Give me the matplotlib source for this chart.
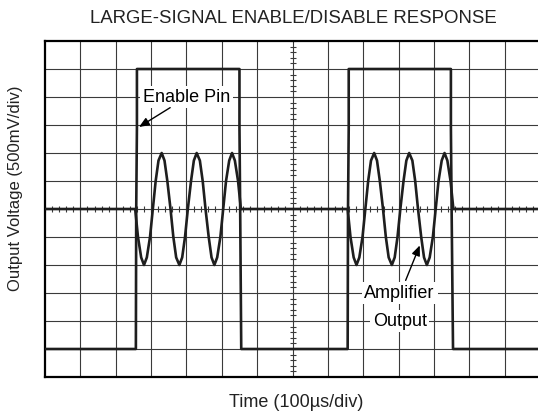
import numpy as np
import matplotlib
matplotlib.use("Agg")
import matplotlib.pyplot as plt

plt.rcParams['font.family'] = ['Liberation Sans', 'DejaVu Sans']

# scope screen, in divisions (time: 100us/div, voltage: 500mV/div)
enable_t = [0.0, 2.57, 2.58, 2.6, 2.6, 5.5, 5.5, 5.52, 5.55,
            8.56, 8.57, 8.59, 8.59, 11.48, 11.48, 11.5, 11.54, 14.0]
enable_v = [-5, -5, 0, 2.9, 5, 5, 2.9, 0, -5,
            -5, 0, 2.9, 5, 5, 2.9, 0, -5, -5]

burst1_t = [0.0,
            2.55, 2.63, 2.72, 2.80, 2.88, 2.97, 3.05, 3.13, 3.21, 3.30, 3.38, 3.46,
            3.55, 3.63, 3.71, 3.80, 3.88, 3.96, 4.04, 4.13, 4.21, 4.29, 4.38, 4.46,
            4.54, 4.63, 4.71, 4.79, 4.87, 4.96, 5.04, 5.12, 5.21, 5.29, 5.37, 5.46,
            5.54]
burst1_v = [0,
            0, -1, -1.73, -2, -1.73, -1, 0, 1, 1.73, 2, 1.73, 1,
            0, -1, -1.73, -2, -1.73, -1, 0, 1, 1.73, 2, 1.73, 1,
            0, -1, -1.73, -2, -1.73, -1, 0, 1, 1.73, 2, 1.73, 1,
            0]
burst2_t = [5.54,
            8.56, 8.64, 8.73, 8.81, 8.89, 8.98, 9.06, 9.14, 9.22, 9.31, 9.39, 9.47,
            9.56, 9.64, 9.72, 9.81, 9.89, 9.97, 10.05, 10.14, 10.22, 10.30, 10.39, 10.47,
            10.55, 10.64, 10.72, 10.80, 10.88, 10.97, 11.05, 11.13, 11.22, 11.30, 11.38, 11.47,
            11.55, 14.0]
burst2_v = [0,
            0, -1, -1.73, -2, -1.73, -1, 0, 1, 1.73, 2, 1.73, 1,
            0, -1, -1.73, -2, -1.73, -1, 0, 1, 1.73, 2, 1.73, 1,
            0, -1, -1.73, -2, -1.73, -1, 0, 1, 1.73, 2, 1.73, 1,
            0, 0]

trace = "#1e1e1e"

fig = plt.figure(figsize=(5.38, 4.12), dpi=100)
ax = fig.add_axes([45 / 538, 35 / 412, 495 / 538, 336 / 412])
ax.set_xlim(0, 14)
ax.set_ylim(-6, 6)

# graticule
for x in range(1, 14):
    ax.axvline(x, color="#3a3a3a", lw=0.8, zorder=1)
for y in range(-5, 6):
    ax.axhline(y, color="#3a3a3a", lw=0.8, zorder=1)
minor_x = np.arange(0, 14.01, 0.2)
minor_y = np.arange(-6, 6.01, 0.2)
ax.plot(minor_x, np.zeros_like(minor_x), ls="none", marker="|", ms=5,
        mew=0.8, color="#3a3a3a", zorder=1)
ax.plot(np.full_like(minor_y, 7), minor_y, ls="none", marker="_", ms=5,
        mew=0.8, color="#3a3a3a", zorder=1)

# traces
ax.plot(enable_t, enable_v, color=trace, lw=1.9, solid_joinstyle="round", zorder=3)
ax.plot(burst1_t, burst1_v, color=trace, lw=1.9, solid_joinstyle="round", zorder=3)
ax.plot(burst2_t, burst2_v, color=trace, lw=1.9, solid_joinstyle="round", zorder=3)

box = dict(boxstyle="square,pad=0.15", fc="white", ec="none")
ax.text(4.0, 4.0, "Enable Pin", fontsize=13, ha="center", va="center",
        bbox=box, zorder=4)
ax.text(10.03, -3.0, "Amplifier", fontsize=13, ha="center", va="center",
        bbox=box, zorder=4)
ax.text(10.03, -4.0, "Output", fontsize=13, ha="center", va="center",
        bbox=box, zorder=4)

arrow = dict(arrowstyle="-|>,head_length=0.6,head_width=0.25", color="black",
             lw=1.0, shrinkA=0, shrinkB=0)
ax.annotate("", xy=(2.66, 2.93), xytext=(3.54, 3.62), arrowprops=arrow, zorder=5)
ax.annotate("", xy=(10.6, -1.3), xytext=(10.2, -2.55), arrowprops=arrow, zorder=5)

ax.set_xticks([])
ax.set_yticks([])
for s in ax.spines.values():
    s.set_linewidth(1.6)
    s.set_color("black")

fig.text(293.5 / 538, 1 - 22.7 / 412, "LARGE-SIGNAL ENABLE/DISABLE RESPONSE",
         fontsize=13.4, ha="center", va="baseline", color="#222222")
fig.text(296 / 538, 1 - 407 / 412, "Time (100\u00b5s/div)",
         fontsize=13, ha="center", va="baseline", color="#222222")
fig.text(16 / 538, 1 - 188 / 412, "Output Voltage (500mV/div)", rotation=90,
         fontsize=12, ha="center", va="center", color="#222222")

fig.savefig("out.png", dpi=100)
